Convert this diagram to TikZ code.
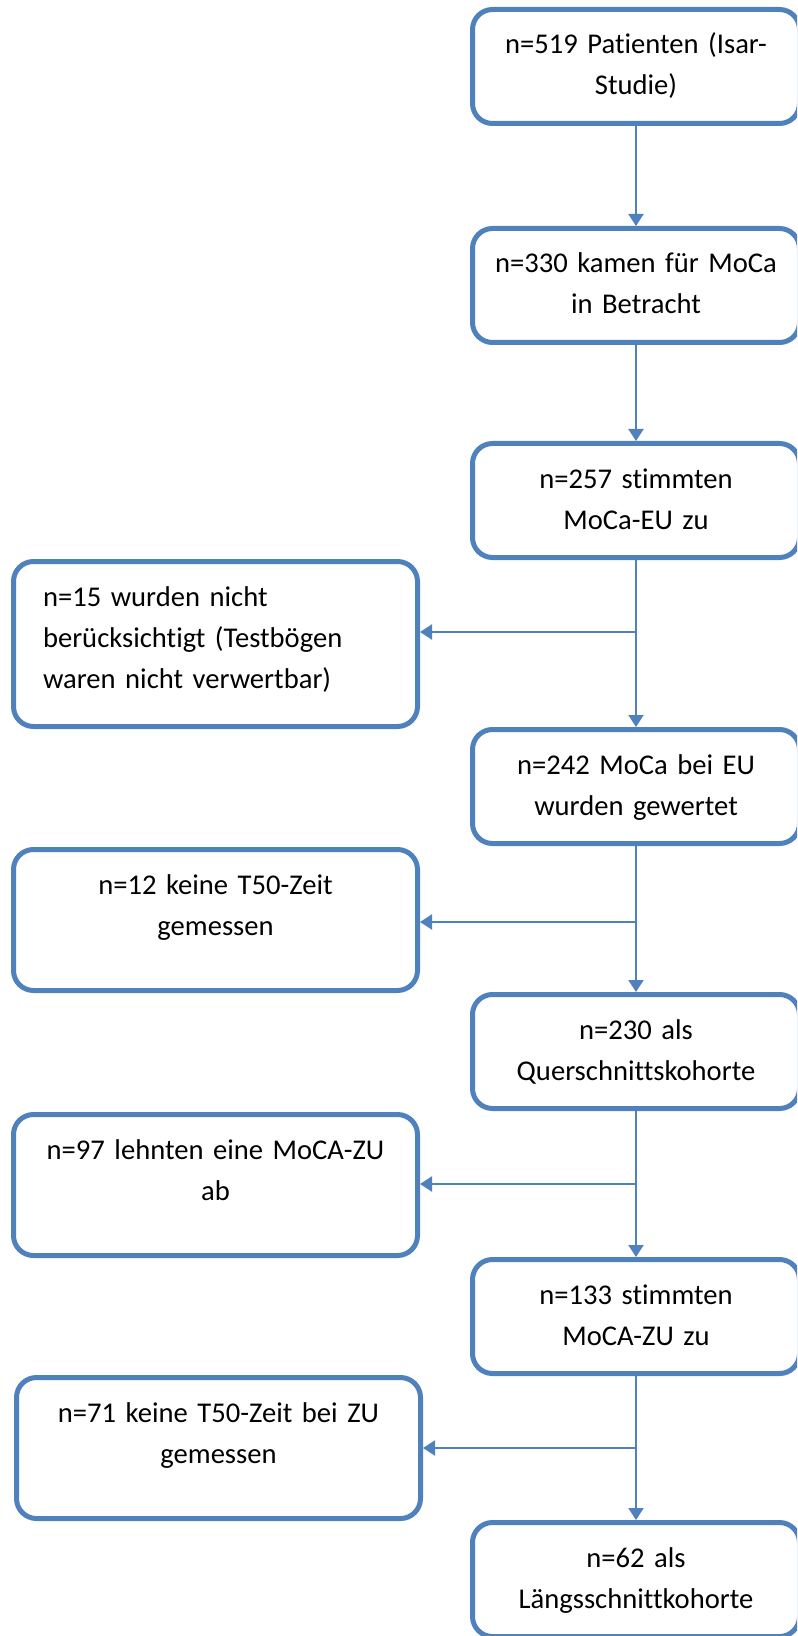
\documentclass[tikz,border=0pt]{standalone}
\usepackage{fontspec}
\setmainfont{Carlito}[Ligatures=NoCommon]
\usetikzlibrary{arrows.meta}
\definecolor{flowblue}{HTML}{4F81BD}

\begin{document}
\begin{tikzpicture}[x=0.5pt, y=-0.5pt,
    box/.style={draw=flowblue, line width=2.5pt, rounded corners=10pt, inner sep=0pt, anchor=north,
      align=center, text height=22.25pt, font=\fontsize{14.3pt}{20.5pt}\selectfont},
    mainbox/.style={box, text width=163.5pt, text depth=34.75pt},
    sidebox/.style={box, text width=202pt, text depth=48.25pt},
    flow/.style={draw=flowblue, line width=1pt, -{Triangle[width=7.5pt,length=6pt]}}]
  \useasboundingbox (0,0) rectangle (797,1636);
  \clip (0,0) rectangle (797,1636);

  % main column
  \node[mainbox] (b1) at (636,7) {n=519 Patienten (Isar-\\Studie)};
  \node[mainbox] (b2) at (636,226) {n=330 kamen für MoCa\\in Betracht};
  \node[mainbox] (b3) at (636,441) {n=257 stimmten\\MoCa-EU zu};
  \node[mainbox] (b4) at (636,727) {n=242 MoCa bei EU\\wurden gewertet};
  \node[mainbox] (b5) at (636,992) {n=230 als\\Querschnittskohorte};
  \node[mainbox] (b6) at (636,1257) {n=133 stimmten\\MoCA-ZU zu};
  \node[mainbox] (b7) at (636,1520) {n=62 als\\Längsschnittkohorte};

  % excluded
  \node[sidebox, align=left, inner xsep=14.75pt, text width=172.5pt, text depth=60.25pt] (l1) at (215.5,559)
    {n=15 wurden nicht\\berücksichtigt (Testbögen\\waren nicht verwertbar)};
  \node[sidebox] (l2) at (215.5,847) {n=12 keine T50-Zeit\\gemessen};
  \node[sidebox] (l3) at (215.5,1112) {n=97 lehnten eine MoCA-ZU\\ab};
  \node[sidebox] (l4) at (218.5,1375) {n=71 keine T50-Zeit bei ZU\\gemessen};

  \coordinate (j1) at (636,632);
  \coordinate (j2) at (636,922);
  \coordinate (j3) at (636,1184);
  \coordinate (j4) at (636,1448);

  \draw[flow] (b1) -- (b2);
  \draw[flow] (b2) -- (b3);
  \draw[flow] (b3) -- (b4);
  \draw[flow] (b4) -- (b5);
  \draw[flow] (b5) -- (b6);
  \draw[flow] (b6) -- (b7);
  \draw[flow] (j1) -- (j1 -| l1.east);
  \draw[flow] (j2) -- (j2 -| l2.east);
  \draw[flow] (j3) -- (j3 -| l3.east);
  \draw[flow] (j4) -- (j4 -| l4.east);
\end{tikzpicture}
\end{document}
